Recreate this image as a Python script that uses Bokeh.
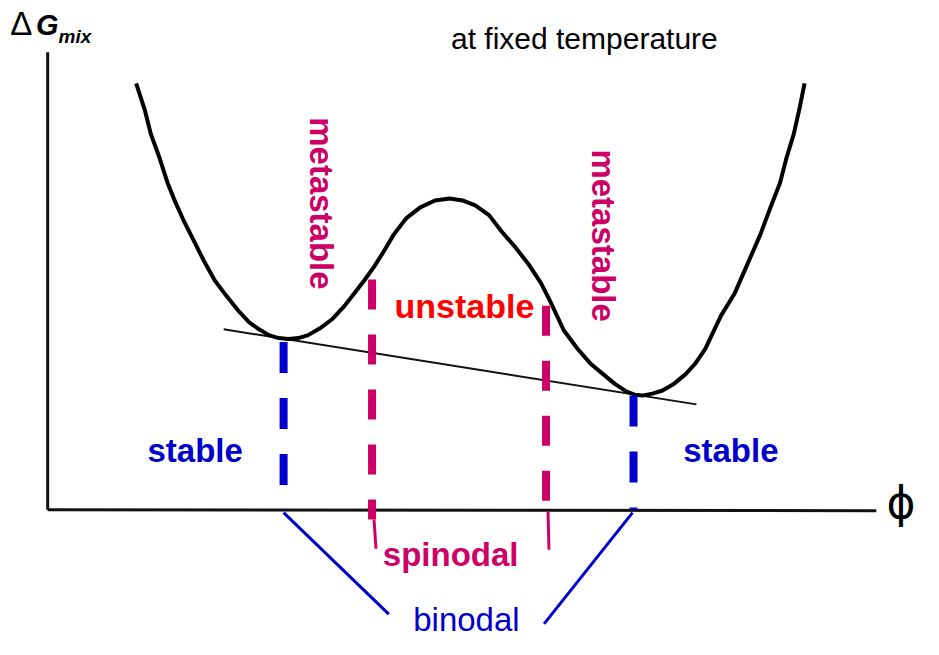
import math
from bokeh.plotting import figure
from bokeh.models import Range1d, Label
from bokeh.embed import file_html
from bokeh.resources import INLINE

# Free-energy-of-mixing curve (phi to the right, G drawn downward on screen)
curve_x = [138, 147, 153, 162, 170, 178, 187, 197, 207, 218, 230, 242, 253, 263, 273, 283,
           293, 303, 313, 325, 337, 350, 360, 370, 380, 390, 400, 413, 427, 442, 457, 470,
           483, 497, 510, 523, 537, 550, 560, 573, 587, 600, 613, 625, 637, 645, 653, 663,
           673, 685, 697, 707, 717, 733, 747, 760, 773, 783, 793, 800, 807, 813, 818]
curve_y = [85, 113, 137, 162, 187, 207, 227, 247, 267, 287, 303, 318, 330, 337, 343, 346,
           347, 346, 343, 336, 327, 313, 300, 287, 273, 257, 240, 223, 212, 205, 203, 205,
           210, 220, 237, 252, 270, 290, 310, 338, 357, 372, 383, 393, 401, 404, 405, 403,
           400, 393, 383, 372, 357, 323, 300, 270, 240, 213, 187, 160, 137, 110, 85]

# common tangent
tangent_x = [227, 708]
tangent_y = [337, 414]

# axes
axis_origin_x = 48
axis_origin_y = 522
axis_x_end = 891
axis_y_top = 53

# binodal and spinodal compositions
binodal_x = [288, 644]
binodal_top = [350, 405]
spinodal_x = [378, 555]
spinodal_top = [286, 313]
spinodal_bottom = [532, 513]

spin_tail_x0 = [380, 557]
spin_tail_y0 = [532, 524]
spin_tail_x1 = [382, 558]
spin_tail_y1 = [562, 563]

binodal_link_x0 = [288, 643]
binodal_link_y0 = [525, 525]
binodal_link_x1 = [395, 553]
binodal_link_y1 = [629, 639]

BLUE = "#0000CC"
MAG = "#CC0066"
RED = "#FF0000"
FONT = "Liberation Sans"

p = figure(width=923, height=639, output_backend="svg", toolbar_location=None,
           x_range=Range1d(0, 939), y_range=Range1d(655, 0),
           x_axis_type=None, y_axis_type=None, min_border=0)
p.grid.visible = False
p.outline_line_color = None
p.background_fill_color = "white"

# axes
p.line([axis_origin_x, axis_origin_x], [axis_y_top, axis_origin_y], line_color="#111111", line_width=3)
p.line([axis_origin_x, axis_x_end], [axis_origin_y, axis_origin_y + 1], line_color="#111111", line_width=3)

# tangent
p.line(tangent_x, tangent_y, line_color="#111111", line_width=2)

# free energy curve
p.line(curve_x, curve_y, line_color="black", line_width=4, line_join="round")

# dashed verticals
for xv, yt in zip(binodal_x, binodal_top):
    p.line([xv, xv], [yt, axis_origin_y], line_color=BLUE, line_width=8, line_dash="31 25")
for xv, yt, yb in zip(spinodal_x, spinodal_top, spinodal_bottom):
    p.line([xv, xv], [yt, yb], line_color=MAG, line_width=8, line_dash="30 25")

p.segment(spin_tail_x0, spin_tail_y0, spin_tail_x1, spin_tail_y1, line_color=MAG, line_width=3)
p.segment(binodal_link_x0, binodal_link_y0, binodal_link_x1, binodal_link_y1, line_color=BLUE, line_width=3)


def lab(x, y, t, color="black", size=33, style="bold", align="center", angle=0.0, font=FONT):
    p.add_layout(Label(x=x, y=y, text=t, text_color=color, text_font_size=f"{size}px",
                       text_font_style=style, text_align=align, text_baseline="middle",
                       angle=angle, text_font=font))


lab(472, 313, "unstable", RED, 34)
lab(198, 461, "stable", BLUE, 33)
lab(743, 461, "stable", BLUE, 33)
lab(458, 568, "spinodal", MAG, 33)
lab(474, 634, "binodal", BLUE, 33, style="normal")
lab(594, 39, "at fixed temperature", "black", 30, style="normal")
lab(327, 208, "metastable", MAG, 33, angle=-math.pi / 2)
lab(613, 241, "metastable", MAG, 33, angle=-math.pi / 2)
lab(10, 24, "Δ", "black", 33, style="normal", align="left")
lab(36, 25, "G", "black", 29, style="bold italic", align="left")
lab(59, 37, "mix", "black", 19, style="bold italic", align="left")
lab(916, 515, "ϕ", "black", 44, style="normal", font="DejaVu Sans")

open("out.html", "w").write(file_html(p, INLINE))
